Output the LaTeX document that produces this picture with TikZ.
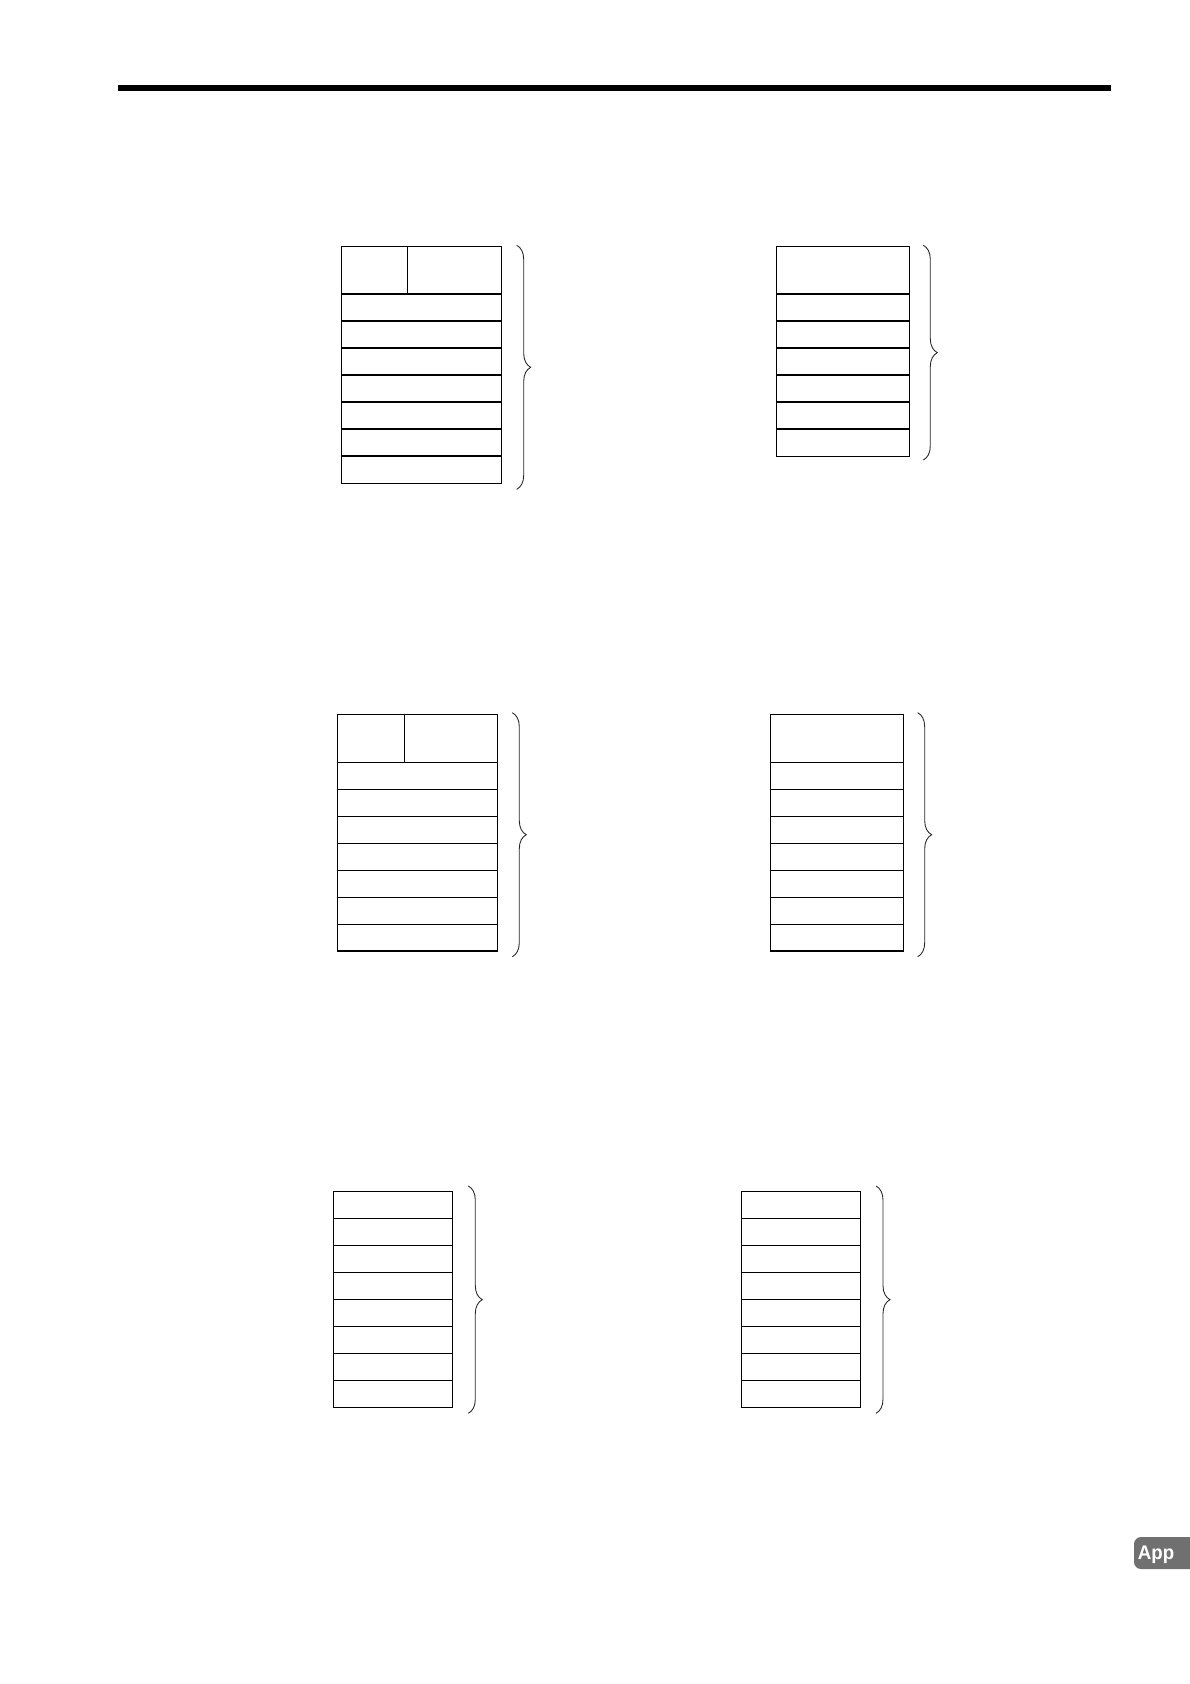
\documentclass[tikz,border=0pt]{standalone}
\usepackage{fontspec}
\usepackage{tikz}
\usetikzlibrary{decorations.pathreplacing}
\newfontfamily\tabfont{Liberation Sans}
\definecolor{tabgray}{RGB}{112,112,112}

\begin{document}
\begin{tikzpicture}[
    x=0.02cm, y=-0.02cm,
    frame/.style={draw=black, line width=0.7pt},
    bracket/.style={draw=black!85, line width=0.5pt, decorate, decoration={brace, amplitude=0.28cm}},
    tablabel/.style={text=white, font=\tabfont\bfseries\fontsize{11.2}{12}\selectfont, inner sep=0pt, xscale=0.95}
]
\useasboundingbox (0,0) rectangle (1190,1684);

% Header rule
\fill (118,85) rectangle (1111,91);

% Table A (split head, 7 rows)
\coordinate (a-nw) at (341.3,246.3);
\coordinate (a-se) at (501.7,483.3);
\draw[frame] (a-nw) rectangle (a-se);
\draw[frame] (407.3,246.3) -- (407.3,294);
\foreach \y in {294,321,...,456} \draw[frame] (341.3,\y) -- (501.7,\y);

% Table B (wide head, 6 rows)
\coordinate (b-nw) at (776.3,246.3);
\coordinate (b-se) at (909.3,456.7);
\draw[frame] (b-nw) rectangle (b-se);
\foreach \y in {294,321,...,429} \draw[frame] (776.3,\y) -- (909.3,\y);

% Table C (split head, 7 rows)
\coordinate (c-nw) at (337.3,714.3);
\coordinate (c-se) at (497.3,951);
\draw[frame] (c-nw) rectangle (c-se);
\draw[frame] (404.3,714.3) -- (404.3,762.3);
\foreach \y in {762.3,789.3,...,925} \draw[frame] (337.3,\y) -- (497.3,\y);

% Table D (wide head, 7 rows)
\coordinate (d-nw) at (770.3,714.3);
\coordinate (d-se) at (903.3,951);
\draw[frame] (d-nw) rectangle (d-se);
\foreach \y in {762.3,789.3,...,925} \draw[frame] (770.3,\y) -- (903.3,\y);

% Table E (8 rows)
\coordinate (e-nw) at (333.3,1191.3);
\coordinate (e-se) at (452.3,1407.3);
\draw[frame] (e-nw) rectangle (e-se);
\foreach \y in {1218.3,1245.3,...,1381} \draw[frame] (333.3,\y) -- (452.3,\y);

% Table F (8 rows)
\coordinate (f-nw) at (741.3,1191.3);
\coordinate (f-se) at (860.3,1407.3);
\draw[frame] (f-nw) rectangle (f-se);
\foreach \y in {1218.3,1245.3,...,1381} \draw[frame] (741.3,\y) -- (860.3,\y);

% Braces
\coordinate (a-top) at (516.7,245.3);  \coordinate (a-bot) at (516.7,489.3);
\coordinate (b-top) at (923.3,245.3);  \coordinate (b-bot) at (923.3,460);
\coordinate (c-top) at (512.3,712.7);  \coordinate (c-bot) at (512.3,956.7);
\coordinate (d-top) at (917.7,712.7);  \coordinate (d-bot) at (917.7,956.7);
\coordinate (e-top) at (468.3,1186);   \coordinate (e-bot) at (468.3,1413.3);
\coordinate (f-top) at (876,1186);     \coordinate (f-bot) at (876,1413.3);
\foreach \t in {a,b,c,d,e,f} \draw[bracket] (\t-top) -- (\t-bot);

% Section tab
\fill[tabgray, rounded corners=4] (1190,1537) -- (1134,1537) -- (1134,1569) -- (1190,1569);
\node[tablabel] (tab) at (1156,1554.5) {App};

\end{tikzpicture}
\end{document}
